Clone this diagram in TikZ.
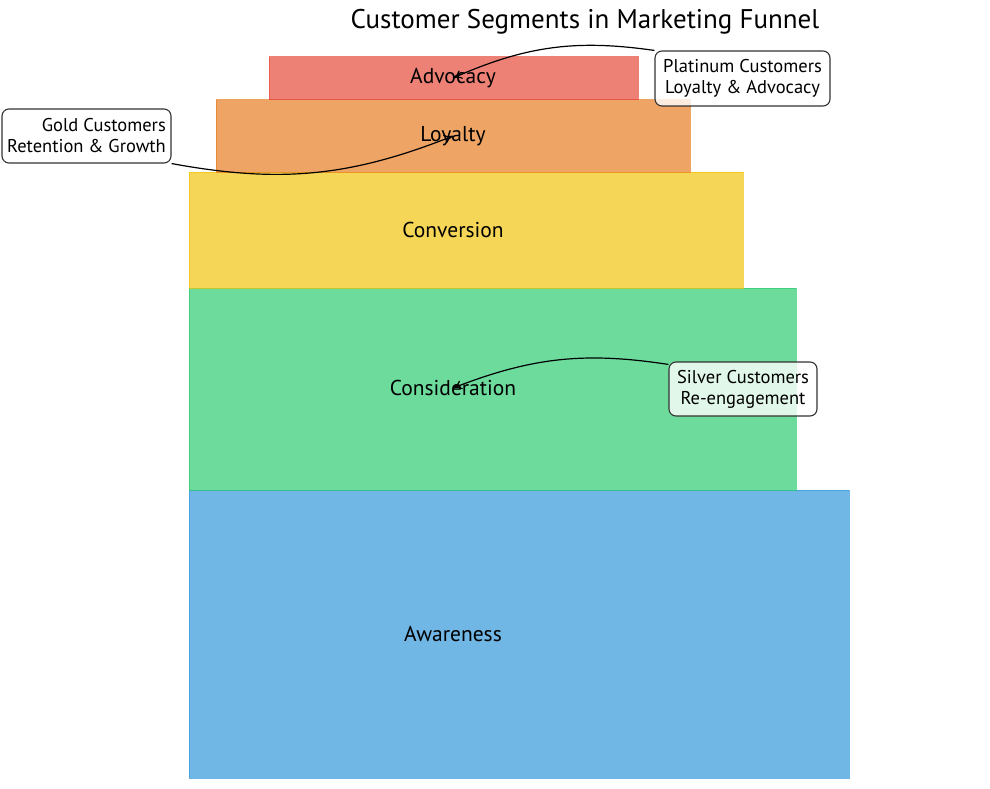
\documentclass[tikz,border=0pt]{standalone}
\usepackage{fontspec}
\setmainfont{PT Sans}
\usetikzlibrary{arrows.meta}
\definecolor{advc}{HTML}{E74C3C}
\definecolor{loyc}{HTML}{E67E22}
\definecolor{conc}{HTML}{F1C40F}
\definecolor{cnsc}{HTML}{2ECC71}
\definecolor{awac}{HTML}{3498DB}
\tikzset{
  stage/.style={draw=#1, fill=#1, fill opacity=.7, draw opacity=.7, line width=1pt},
  stagelab/.style={font=\fontsize{21.5}{25}\selectfont},
  note/.style={draw=black!80, fill=white, fill opacity=.8, text opacity=1, rounded corners=7pt,
    line width=1.1pt, font=\fontsize{18.5}{21}\selectfont},
}
\begin{document}
\begin{tikzpicture}[x=1pt,y=-1pt,>={To[length=9pt,width=9pt]}]
\useasboundingbox (0,0) rectangle (990,789);
\node[font=\fontsize{27}{30}\selectfont] (title) at (585,22) {Customer Segments in Marketing Funnel};
% funnel stages, widest at the bottom
\draw[stage=awac](189,490) rectangle (849,778);
\draw[stage=cnsc](189,288) rectangle (796,490);
\draw[stage=conc](189,172) rectangle (743,288);
\draw[stage=loyc](216,100) rectangle (690,172);
\draw[stage=advc](269,57) rectangle (638,100);
\node[stagelab] (awa) at (453,634) {Awareness};
\node[stagelab] (cns) at (453,388) {Consideration};
\node[stagelab] (con) at (453,230) {Conversion};
\node[stagelab] (loy) at (453,136) {Loyalty};
\node[stagelab] (adv) at (453,78) {Advocacy};
% customer groups
\node[note, minimum width=175, minimum height=55, align=center] (plat) at (742.5,78.5) {Platinum Customers\\Loyalty \& Advocacy};
\node[note, minimum width=169, minimum height=54, align=right] (gold) at (86.5,136) {Gold Customers\\Retention \& Growth};
\node[note, minimum width=148, minimum height=54, align=center] (silv) at (743,389) {Silver Customers\\Re-engagement};
\draw[->, line width=1.2pt](plat.north west)to[bend right=16](adv.center);
\draw[->, line width=1.2pt](gold.south east)to[bend right=16](loy.center);
\draw[->, line width=1.2pt]([yshift=-3]silv.north west)to[bend right=15](cns.center);
\end{tikzpicture}
\end{document}
